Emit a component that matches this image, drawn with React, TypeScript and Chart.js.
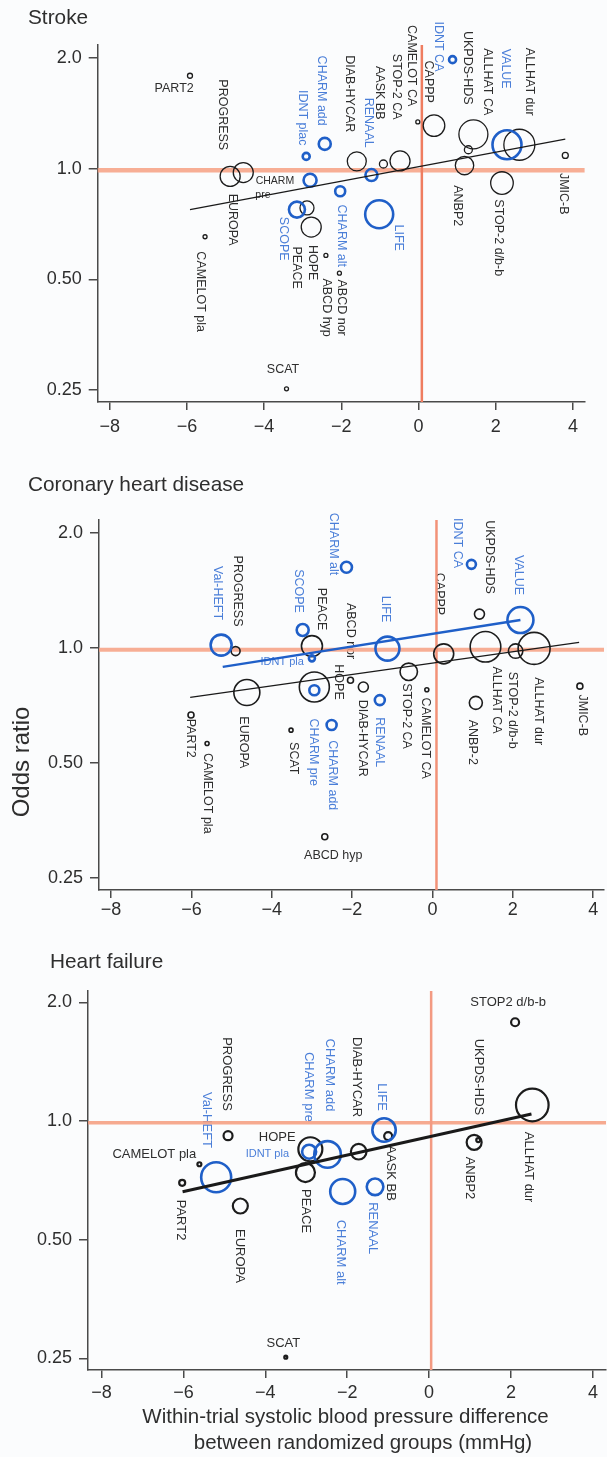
import { useEffect, useRef } from 'react';
import { Chart, registerables } from 'chart.js';

Chart.register(...registerables);

const FONT = '"Liberation Sans", Arial, Helvetica, sans-serif';
const INK = '#2e2e2e';
const AXIS = '#4a4a4a';
const BLUE = '#1f5fc8';
const BLUE_TEXT = '#4a7ed8';

// shared axes
const bpTicks = [-8, -6, -4, -2, 0, 2, 4];
const bpTickLabels = ['−8', '−6', '−4', '−2', '0', '2', '4'];
const orTicks = [0.25, 0.5, 1, 2];
const orTickLabels = ['0.25', '0.50', '1.0', '2.0'];

// ---------- Stroke ----------
const strokeTrials = ['PART2', 'PROGRESS', 'EUROPA', 'CAMELOT pla', 'CHARM pre', 'IDNT plac', 'CHARM add', 'CHARM alt', 'SCOPE', 'HOPE', 'PEACE', 'ABCD hyp', 'ABCD nor', 'DIAB-HYCAR', 'AASK BB', 'STOP-2 CA', 'RENAAL', 'LIFE', 'CAMELOT CA', 'CAPPP', 'IDNT CA', 'ALLHAT CA', 'UKPDS-HDS', 'ANBP2', 'STOP-2 d/b-b', 'VALUE', 'ALLHAT dur', 'JMIC-B', 'SCAT'];
const strokeBP = [-5.92, -4.88, -4.54, -5.53, -2.81, -2.91, -2.43, -2.03, -3.15, -2.89, -2.78, -2.40, -2.05, -1.60, -0.91, -0.48, -1.22, -1.02, -0.02, 0.40, 0.88, 1.42, 1.29, 1.19, 2.16, 2.29, 2.61, 3.80, -3.42];
const strokeOR = [1.79, 0.953, 0.976, 0.653, 0.93, 1.08, 1.168, 0.868, 0.774, 0.782, 0.694, 0.581, 0.52, 1.047, 1.03, 1.05, 0.961, 0.752, 1.34, 1.31, 1.98, 1.24, 1.126, 1.02, 0.914, 1.162, 1.162, 1.087, 0.252];
const strokeSize = [2.5, 10, 10, 2, 6.5, 3.5, 6, 5, 8, 7, 10, 2, 2, 9.5, 4, 10, 6, 14, 2, 10.8, 3.5, 14.5, 4, 9.2, 11.3, 14.5, 15.5, 3, 2];
const strokeARB = [0, 0, 0, 0, 1, 1, 1, 1, 1, 0, 0, 0, 0, 0, 0, 0, 1, 1, 0, 0, 1, 0, 0, 0, 0, 1, 0, 0, 0];
const strokeFitBP = [-5.92, 3.8];
const strokeFitOR = [0.774, 1.204];

// ---------- Coronary heart disease ----------
const chdTrials = ['Val-HEFT', 'PROGRESS', 'SCOPE', 'PEACE', 'IDNT pla', 'LIFE', 'CAPPP', 'STOP-2 CA', 'HOPE', 'CHARM pre', 'ABCD nor', 'DIAB-HYCAR', 'RENAAL', 'CAMELOT CA', 'CHARM add', 'SCAT', 'EUROPA', 'PART2', 'CHARM alt', 'IDNT CA', 'UKPDS-HDS', 'VALUE', 'ALLHAT CA', 'STOP-2 d/b-b', 'ALLHAT dur', 'JMIC-B', 'ANBP-2', 'CAMELOT pla', 'ABCD hyp'];
const chdBP = [-5.26, -4.90, -3.23, -3.00, -3.00, -1.12, 0.28, -0.59, -2.94, -2.94, -2.04, -1.72, -1.31, -0.14, -2.51, -3.52, -4.62, -6.01, -2.14, 0.97, 1.17, 2.19, 1.32, 2.07, 2.53, 3.67, 1.08, -5.61, -2.68];
const chdOR = [1.018, 0.982, 1.115, 1.012, 0.94, 0.997, 0.966, 0.867, 0.791, 0.776, 0.824, 0.791, 0.731, 0.778, 0.629, 0.61, 0.765, 0.668, 1.627, 1.656, 1.227, 1.184, 1.008, 0.982, 0.998, 0.795, 0.719, 0.563, 0.321];
const chdSize = [10.5, 4.5, 6, 10.5, 3, 12, 10, 8.7, 15, 5, 3, 5, 5, 2, 5, 2, 13, 3, 5.5, 4.5, 5, 13, 15.3, 7.2, 16, 3, 6.5, 2, 3];
const chdARB = [1, 0, 1, 0, 1, 1, 0, 0, 0, 1, 0, 0, 1, 0, 1, 0, 0, 0, 1, 1, 0, 1, 0, 0, 0, 0, 0, 0, 0];
const chdFitBP = [-6.03, 3.65];
const chdFitOR = [0.743, 1.035];
const chdArbFitBP = [-5.22, 2.19];
const chdArbFitOR = [0.893, 1.184];

// ---------- Heart failure ----------
const hfTrials = ['PROGRESS', 'HOPE', 'IDNT pla', 'CHARM add', 'DIAB-HYCAR', 'LIFE', 'AASK BB', 'CAMELOT pla', 'Val-HEFT', 'PART2', 'PEACE', 'CHARM alt', 'RENAAL', 'EUROPA', 'SCAT', 'STOP2 d/b-b', 'ALLHAT dur', 'ANBP2', 'UKPDS-HDS'];
const hfBP = [-4.91, -2.90, -2.93, -2.48, -1.72, -1.10, -1.00, -5.61, -5.20, -6.03, -3.02, -2.11, -1.32, -4.61, -3.50, 2.10, 2.52, 1.10, 1.20];
const hfOR = [0.918, 0.848, 0.836, 0.823, 0.836, 0.949, 0.916, 0.777, 0.72, 0.697, 0.74, 0.663, 0.681, 0.609, 0.252, 1.78, 1.098, 0.883, 0.895];
const hfSize = [4.5, 12, 7, 13.3, 7.8, 11.7, 4, 2, 15, 3, 9.5, 12.5, 8.3, 7.5, 1.5, 4, 16.3, 7.5, 2];
const hfARB = [0, 0, 1, 1, 0, 1, 0, 0, 1, 0, 0, 1, 1, 0, 0, 0, 0, 0, 0];
const hfFitBP = [-6.02, 2.5];
const hfFitOR = [0.662, 1.042];

// reference lines (OR = 1, no BP difference)
const refOR = [0.99, 0.99, 0.99];
const refBP = [0.085, 0.1, 0.05];

// label layout: text, bp, OR, rotation, blue, font size
type Label = [string, number, number, number, number, number?];

const strokeLabels: Label[] = [
  ['PART2', -6.33, 1.65, 0, 0],
  ['PROGRESS', -5.09, 1.402, 90, 0],
  ['EUROPA', -4.83, 0.727, 90, 0],
  ['CHARM', -3.72, 0.928, 0, 0, 10.5],
  ['pre', -4.03, 0.845, 0, 0, 10.5],
  ['CAMELOT pla', -5.65, 0.463, 90, 0],
  ['SCOPE', -3.51, 0.645, 90, 1],
  ['HOPE', -2.76, 0.555, 90, 0],
  ['PEACE', -3.15, 0.538, 90, 0],
  ['ABCD hyp', -2.39, 0.419, 90, 0],
  ['ABCD nor', -2.01, 0.419, 90, 0],
  ['CHARM alt', -2.01, 0.657, 90, 1],
  ['LIFE', -0.53, 0.649, 90, 1],
  ['IDNT plac', -3.02, 1.376, 90, 1],
  ['CHARM add', -2.52, 1.63, 90, 1],
  ['DIAB-HYCAR', -1.8, 1.599, 90, 0],
  ['RENAAL', -1.31, 1.334, 90, 1],
  ['AASK BB', -1.02, 1.609, 90, 0],
  ['STOP-2 CA', -0.58, 1.671, 90, 0],
  ['CAMELOT CA', -0.19, 1.906, 90, 0],
  ['IDNT CA', 0.51, 2.15, 90, 1],
  ['CAPPP', 0.25, 1.724, 90, 0],
  ['UKPDS-HDS', 1.26, 1.882, 90, 0],
  ['ALLHAT CA', 1.78, 1.724, 90, 0],
  ['VALUE', 2.24, 1.871, 90, 1],
  ['ALLHAT dur', 2.87, 1.724, 90, 0],
  ['JMIC-B', 3.75, 0.855, 90, 0],
  ['STOP-2 d/b-b', 2.06, 0.649, 90, 0],
  ['ANBP2', 1.0, 0.793, 90, 0],
  ['SCAT', -3.51, 0.284, 0, 0],
];

const chdLabels: Label[] = [
  ['Val-HEFT', -5.36, 1.393, 90, 1],
  ['PROGRESS', -4.86, 1.41, 90, 0],
  ['SCOPE', -3.34, 1.41, 90, 1],
  ['PEACE', -2.77, 1.265, 90, 0],
  ['ABCD nor', -2.04, 1.108, 90, 0],
  ['IDNT pla', -3.74, 0.919, 0, 1, 11],
  ['HOPE', -2.34, 0.815, 90, 0],
  ['LIFE', -1.17, 1.265, 90, 1],
  ['CHARM alt', -2.47, 1.872, 90, 1],
  ['CAPPP', 0.17, 1.385, 90, 0],
  ['IDNT CA', 0.62, 1.883, 90, 1],
  ['UKPDS-HDS', 1.42, 1.731, 90, 0],
  ['VALUE', 2.14, 1.553, 90, 1],
  ['STOP-2 CA', -0.65, 0.664, 90, 0],
  ['CAMELOT CA', -0.17, 0.581, 90, 0],
  ['DIAB-HYCAR', -1.75, 0.581, 90, 0],
  ['RENAAL', -1.32, 0.567, 90, 1],
  ['CHARM add', -2.49, 0.465, 90, 1],
  ['CHARM pre', -2.97, 0.534, 90, 1],
  ['SCAT', -3.47, 0.515, 90, 0],
  ['EUROPA', -4.71, 0.567, 90, 0],
  ['PART2', -6.03, 0.581, 90, 0],
  ['CAMELOT pla', -5.59, 0.417, 90, 0],
  ['ABCD hyp', -2.47, 0.287, 0, 0],
  ['ANBP-2', 1.0, 0.567, 90, 0],
  ['ALLHAT CA', 1.6, 0.731, 90, 0],
  ['STOP-2 d/b-b', 2.0, 0.688, 90, 0],
  ['ALLHAT dur', 2.64, 0.684, 90, 0],
  ['JMIC-B', 3.74, 0.667, 90, 0],
];

const hfLabels: Label[] = [
  ['PROGRESS', -4.95, 1.316, 90, 0],
  ['Val-HEFT', -5.44, 1.006, 90, 1],
  ['HOPE', -3.71, 0.911, 0, 0],
  ['CAMELOT pla', -6.71, 0.825, 0, 0],
  ['IDNT pla', -3.95, 0.825, 0, 1, 11],
  ['CHARM pre', -2.95, 1.22, 90, 1],
  ['CHARM add', -2.44, 1.308, 90, 1],
  ['DIAB-HYCAR', -1.78, 1.293, 90, 0],
  ['LIFE', -1.15, 1.15, 90, 1],
  ['UKPDS-HDS', 1.22, 1.293, 90, 0],
  ['STOP2 d/b-b', 1.93, 2.003, 0, 0],
  ['ALLHAT dur', 2.44, 0.764, 90, 0],
  ['ANBP2', 1.0, 0.717, 90, 0],
  ['AASK BB', -0.93, 0.738, 90, 0],
  ['RENAAL', -1.37, 0.535, 90, 1],
  ['CHARM alt', -2.17, 0.465, 90, 1],
  ['PEACE', -3.02, 0.591, 90, 0],
  ['EUROPA', -4.63, 0.455, 90, 0],
  ['PART2', -6.07, 0.561, 90, 0],
  ['SCAT', -3.56, 0.273, 0, 0],
];

// free texts on each canvas: text, x, y, rotation, size, align
type FreeText = [string, number, number, number, number, CanvasTextAlign];

interface Panel {
  top: number; height: number;
  area: { left: number; top: number; right: number; bottom: number };
  xMin: number; xMax: number; yMin: number; yMax: number;
  xPad: number;
  bp: number[]; or: number[]; size: number[]; arb: number[];
  fitBP: number[]; fitOR: number[]; fitWidth: number;
  arbFitBP?: number[]; arbFitOR?: number[];
  blackWidth: number; labelSize: number;
  labels: Label[]; texts: FreeText[];
  ref: number;
  hColor: string; hWidth: number; vColor: string; vWidth: number;
}

const PANELS: Panel[] = [
  {
    top: 0, height: 460,
    area: { left: 97.7, top: 45, right: 584.6, bottom: 402 },
    xMin: -8.31, xMax: 4.3, yMin: 0.232, yMax: 2.17, xPad: 6,
    bp: strokeBP, or: strokeOR, size: strokeSize, arb: strokeARB,
    fitBP: strokeFitBP, fitOR: strokeFitOR, fitWidth: 1.3,
    blackWidth: 1.3, labelSize: 12.5,
    labels: strokeLabels,
    texts: [['Stroke', 28, 18, 0, 20.8, 'left']],
    ref: 0,
    hColor: 'rgba(246,160,130,0.85)', hWidth: 4.5, vColor: '#ef7d60', vWidth: 2.5,
  },
  {
    top: 460, height: 470,
    area: { left: 99, top: 60, right: 604, bottom: 430 },
    xMin: -8.3, xMax: 4.27, yMin: 0.2329, yMax: 2.163, xPad: 1.5,
    bp: chdBP, or: chdOR, size: chdSize, arb: chdARB,
    fitBP: chdFitBP, fitOR: chdFitOR, fitWidth: 1.3,
    arbFitBP: chdArbFitBP, arbFitOR: chdArbFitOR,
    blackWidth: 1.6, labelSize: 12.5,
    labels: chdLabels,
    texts: [['Coronary heart disease', 28, 25, 0, 20.8, 'left'], ['Odds ratio', 22, 302, -90, 24, 'center']],
    ref: 1,
    hColor: 'rgba(246,160,130,0.85)', hWidth: 4, vColor: '#f29278', vWidth: 2.5,
  },
  {
    top: 930, height: 527,
    area: { left: 88, top: 61, right: 606, bottom: 440 },
    xMin: -8.33, xMax: 4.32, yMin: 0.2338, yMax: 2.136, xPad: 4.5,
    bp: hfBP, or: hfOR, size: hfSize, arb: hfARB,
    fitBP: hfFitBP, fitOR: hfFitOR, fitWidth: 3,
    blackWidth: 2.2, labelSize: 13,
    labels: hfLabels,
    texts: [
      ['Heart failure', 50, 32, 0, 20.8, 'left'],
      ['Within-trial systolic blood pressure difference', 345.5, 487, 0, 20.5, 'center'],
      ['between randomized groups (mmHg)', 363, 513, 0, 20.5, 'center'],
    ],
    ref: 2,
    hColor: 'rgba(245,155,125,0.85)', hWidth: 3.5, vColor: '#f39a82', vWidth: 2.5,
  },
];

function textPlugin(p: Panel) {
  return {
    id: 'panelTexts',
    beforeDatasetsDraw(chart: any) {
      const ctx: CanvasRenderingContext2D = chart.ctx;
      const xs = chart.scales.x;
      const ys = chart.scales.y;
      ctx.save();
      ctx.textBaseline = 'middle';
      for (const [text, bx, orv, rot, blue, fs] of p.labels) {
        const px = xs.getPixelForValue(bx);
        const py = ys.getPixelForValue(orv);
        ctx.save();
        ctx.translate(px, py);
        ctx.rotate((rot * Math.PI) / 180);
        ctx.font = `${fs || p.labelSize}px ${FONT}`;
        ctx.fillStyle = blue ? BLUE_TEXT : INK;
        ctx.textAlign = 'center';
        ctx.fillText(text, 0, 0);
        ctx.restore();
      }
      for (const [text, x, y, rot, fs, align] of p.texts) {
        ctx.save();
        ctx.translate(x, y);
        ctx.rotate((rot * Math.PI) / 180);
        ctx.font = `${fs}px ${FONT}`;
        ctx.fillStyle = INK;
        ctx.textAlign = align;
        ctx.fillText(text, 0, 0);
        ctx.restore();
      }
      ctx.restore();
    },
  };
}

function makeChart(canvas: HTMLCanvasElement, p: Panel) {
  const blackPts: any[] = [];
  const bluePts: any[] = [];
  p.bp.forEach((x, i) => {
    (p.arb[i] ? bluePts : blackPts).push({ x, y: p.or[i], r: p.size[i] });
  });
  const lineBase = { type: 'line', pointRadius: 0, fill: false, tension: 0, clip: false };
  const datasets: any[] = [
    { ...lineBase, data: [{ x: p.xMin, y: refOR[p.ref] }, { x: p.xMax, y: refOR[p.ref] }], borderColor: p.hColor, borderWidth: p.hWidth, order: 6 },
    { ...lineBase, data: [{ x: refBP[p.ref], y: p.yMin }, { x: refBP[p.ref], y: p.yMax }], borderColor: p.vColor, borderWidth: p.vWidth, order: 5 },
    { type: 'bubble', data: blackPts, borderColor: '#1c1c1c', backgroundColor: 'rgba(0,0,0,0)', borderWidth: p.blackWidth, order: 4, clip: false },
    { type: 'bubble', data: bluePts, borderColor: BLUE, backgroundColor: 'rgba(0,0,0,0)', borderWidth: 2.6, order: 3, clip: false },
    { ...lineBase, data: p.fitBP.map((x, i) => ({ x, y: p.fitOR[i] })), borderColor: '#1a1a1a', borderWidth: p.fitWidth, order: 1 },
  ];
  if (p.arbFitBP && p.arbFitOR) {
    const fo = p.arbFitOR;
    datasets.push({ ...lineBase, data: p.arbFitBP.map((x, i) => ({ x, y: fo[i] })), borderColor: BLUE, borderWidth: 2.5, order: 2 });
  }
  const xAxisH = 40;
  return new Chart(canvas, {
    type: 'bubble',
    data: { datasets },
    plugins: [textPlugin(p)],
    options: {
      responsive: false,
      animation: false,
      devicePixelRatio: 1,
      events: [],
      layout: {
        autoPadding: false,
        padding: {
          left: 0,
          top: p.area.top,
          right: 607 - p.area.right,
          bottom: p.height - p.area.bottom - xAxisH,
        },
      },
      plugins: { legend: { display: false }, tooltip: { enabled: false }, title: { display: false } },
      scales: {
        x: {
          type: 'linear',
          min: p.xMin,
          max: p.xMax,
          afterFit: (s: any) => { s.height = xAxisH; s.paddingLeft = 0; s.paddingRight = 0; },
          afterBuildTicks: (s: any) => { s.ticks = bpTicks.map((v) => ({ value: v })); },
          ticks: {
            callback: (_v: any, i: number) => bpTickLabels[i],
            color: INK,
            font: { family: FONT, size: 18 },
            padding: p.xPad,
            autoSkip: false,
            maxRotation: 0,
            minRotation: 0,
          },
          grid: { display: true, drawOnChartArea: false, drawTicks: true, tickLength: 8, color: AXIS, lineWidth: 1.5 },
          border: { display: true, color: AXIS, width: 1.5 },
        },
        y: {
          type: 'logarithmic',
          min: p.yMin,
          max: p.yMax,
          afterFit: (s: any) => { s.width = p.area.left; s.paddingTop = 0; s.paddingBottom = 0; },
          afterBuildTicks: (s: any) => { s.ticks = orTicks.map((v) => ({ value: v })); },
          ticks: {
            callback: (_v: any, i: number) => orTickLabels[i],
            color: INK,
            font: { family: FONT, size: 18 },
            padding: 7,
            autoSkip: false,
          },
          grid: { display: true, drawOnChartArea: false, drawTicks: true, tickLength: 9, color: AXIS, lineWidth: 1.5 },
          border: { display: true, color: AXIS, width: 1.5 },
        },
      },
    } as any,
  } as any);
}

export default function App() {
  const r0 = useRef<HTMLCanvasElement>(null);
  const r1 = useRef<HTMLCanvasElement>(null);
  const r2 = useRef<HTMLCanvasElement>(null);
  const refs = [r0, r1, r2];
  useEffect(() => {
    const charts = PANELS.map((p, i) => makeChart(refs[i].current as HTMLCanvasElement, p));
    return () => charts.forEach((c) => c.destroy());
  }, []);
  return (
    <div style={{ position: 'absolute', left: 0, top: 0, width: 607, height: 1457, background: '#fbfcfd', overflow: 'hidden' }}>
      {PANELS.map((p, i) => (
        <canvas
          key={i}
          ref={refs[i]}
          width={607}
          height={p.height}
          style={{ position: 'absolute', left: 0, top: p.top, width: 607, height: p.height, display: 'block' }}
        />
      ))}
    </div>
  );
}
